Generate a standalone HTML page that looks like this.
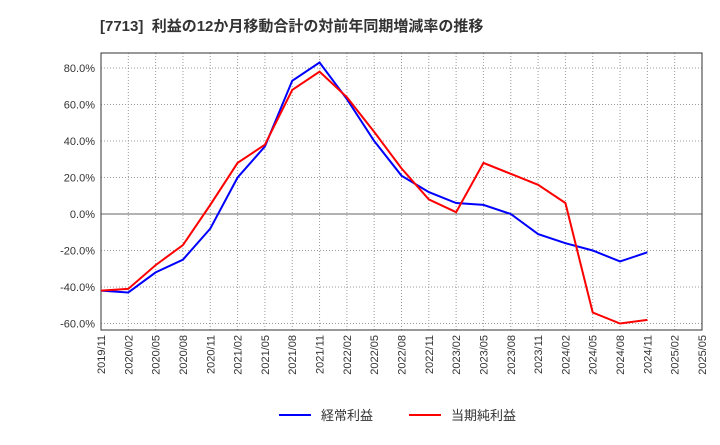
<!DOCTYPE html>
<html><head><meta charset="utf-8"><style>
body{margin:0;background:#fff;font-family:"Liberation Sans","Noto Sans CJK JP",sans-serif;}
</style></head><body>
<svg id="c" width="720" height="440" xmlns="http://www.w3.org/2000/svg">
<text x="100" y="31" font-size="15" font-weight="bold" fill="#333">[7713]&#160;&#160;利益の12か月移動合計の対前年同期増減率の推移</text>
<g id="grid"></g><g id="axes"></g><g id="series"></g>
<g>
<line x1="279" y1="415" x2="311" y2="415" stroke="#0000ff" stroke-width="2"/>
<text x="321" y="420" font-size="13" fill="#333">経常利益</text>
<line x1="409" y1="415" x2="441" y2="415" stroke="#ff0000" stroke-width="2"/>
<text x="451" y="420" font-size="13" fill="#333">当期純利益</text>
</g>
</svg>
<script>
const categories=["2019/11","2020/02","2020/05","2020/08","2020/11","2021/02","2021/05","2021/08","2021/11","2022/02","2022/05","2022/08","2022/11","2023/02","2023/05","2023/08","2023/11","2024/02","2024/05","2024/08","2024/11","2025/02","2025/05"];
const ordinaryProfit=[-42,-43,-32,-25,-8,20,37,73,83,63,40,21,12,6,5,0,-11,-16,-20,-26,-21];
const netProfit=[-42,-41,-28,-17,5,28,38,68,78,64,45,25,8,1,28,22,16,6,-54,-60,-58];
const yTicks=[-60,-40,-20,0,20,40,60,80];
const NS="http://www.w3.org/2000/svg";
const L=101,R=702,T=53,B=330;
const x=i=>L+i*(R-L)/(categories.length-1);
const y=v=>214-v*1.825;
function mk(tag,attrs,parent){const e=document.createElementNS(NS,tag);for(const k in attrs)e.setAttribute(k,attrs[k]);parent.appendChild(e);return e;}
const grid=document.getElementById('grid'),axes=document.getElementById('axes'),ser=document.getElementById('series');
categories.forEach((c,i)=>{
 const gl=mk('line',{x1:x(i),x2:x(i),y1:T,y2:B,stroke:'#999','stroke-dasharray':'1,2'},grid);
 
 
 const t=mk('text',{x:0,y:0,'font-size':11,fill:'#333','text-anchor':'end',transform:`translate(${x(i)+4},${B+5}) rotate(-90)`},axes);
 t.textContent=c;
 
 
});
yTicks.forEach(v=>{
 const gl=mk('line',{x1:L,x2:R,y1:y(v),y2:y(v),stroke:v===0?'#666':'#999','stroke-dasharray':v===0?'none':'1,2'},grid);
 
 
 const t=mk('text',{x:L-6,y:y(v)+4,'font-size':11,fill:'#333','text-anchor':'end'},axes);
 t.textContent=v.toFixed(1)+'%';
 
 
});
const fr=mk('rect',{x:L,y:T,width:R-L,height:B-T,fill:'none',stroke:'#333'},axes);


function line(data,color,name){
 const p=mk('polyline',{points:data.map((v,i)=>x(i)+','+y(v)).join(' '),fill:'none',stroke:color,'stroke-width':2},ser);
 
 
}
line(ordinaryProfit,'#0000ff','ordinary-profit-line');
line(netProfit,'#ff0000','net-profit-line');
</script>
</body></html>
